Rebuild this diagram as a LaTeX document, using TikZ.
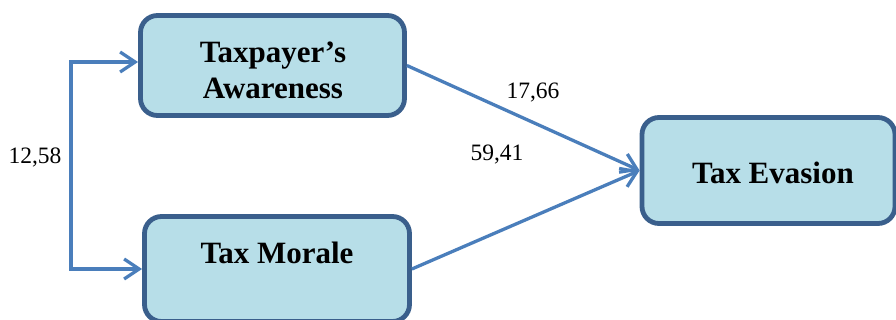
\documentclass[tikz,border=0pt]{standalone}
\usepackage{fontspec}
\setmainfont{Liberation Serif}
\newfontfamily\tnr{Liberation Serif}
\usetikzlibrary{arrows.meta}
\definecolor{boxfill}{HTML}{B7DEE8}
\definecolor{boxline}{HTML}{3A5F8C}
\definecolor{arrowcol}{HTML}{4A7EBB}
\begin{document}
\begin{tikzpicture}[x=1pt,y=-1pt,
  box/.style={draw=boxline, fill=boxfill, line width=4.8pt, rounded corners=17pt, inner sep=0pt},
  boxtext/.style={font=\tnr\fontsize{31}{36}\selectfont\bfseries, align=center, inner sep=0pt},
  numlabel/.style={font=\tnr\fontsize{23.5}{28}\selectfont, inner sep=0pt},
  conn/.style={draw=arrowcol, line width=3.3pt, -{Straight Barb[length=15pt,width=20pt,line width=3.3pt]}},
  both/.style={draw=arrowcol, line width=3.3pt, {Straight Barb[length=15pt,width=20pt,line width=3.3pt]}-{Straight Barb[length=15pt,width=20pt,line width=3.3pt]}}]
\useasboundingbox (0,0) rectangle (896,320);
\clip (0,0) rectangle (896,320);
% boxes
\node[box, minimum width=264pt, minimum height=100pt] (aw) at (272.5,65.5) {};
\node[boxtext] (awt) at (273,70) {Taxpayer’s\\Awareness};
\node[box, minimum width=265pt, minimum height=105pt] (mo) at (277,269) {};
\node[boxtext] (mot) at (277,253) {Tax Morale};
\node[box, minimum width=253pt, minimum height=106pt] (ev) at (768.5,170.5) {};
\node[boxtext] (evt) at (773,173) {Tax Evasion};
% bracket
\coordinate (top) at (71,62);
\coordinate (bot) at (71,269);
\draw[both] (aw.west |- top) -- (top) -- (bot) -- (mo.west |- bot);
% arrows to tax evasion
\draw[conn] (aw.east) -- (ev.west);
\draw[conn] (mo.east) -- (ev.west);
% labels
\node[numlabel] (l1) at (35,157) {12,58};
\node[numlabel] (l2) at (533,93) {17,66};
\node[numlabel] (l3) at (497,155) {59,41};
\end{tikzpicture}
\end{document}
